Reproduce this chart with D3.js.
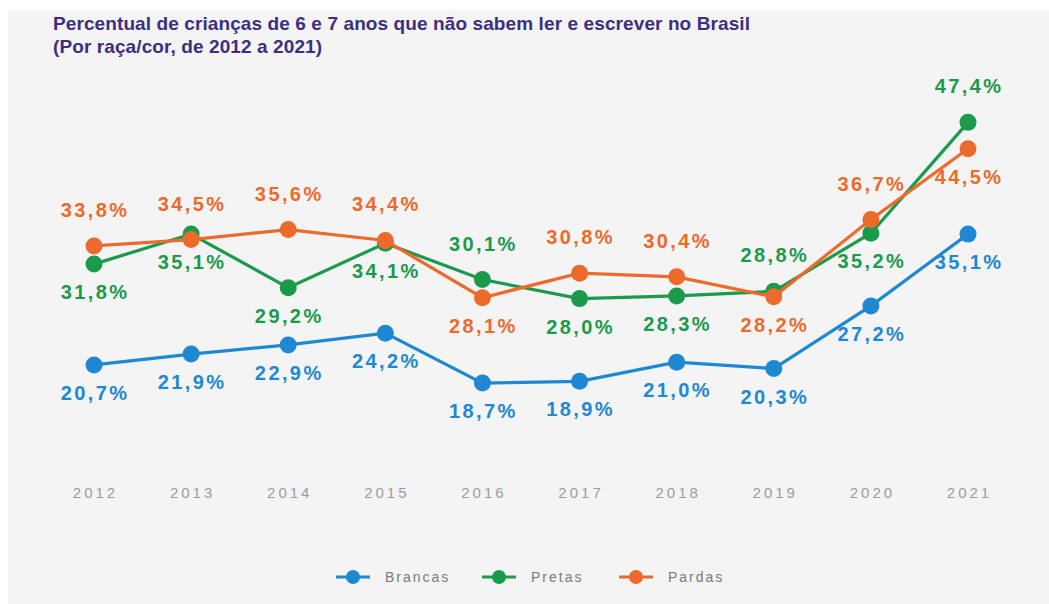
<html>
<head>
<meta charset="utf-8">
<script src="https://cdn.jsdelivr.net/npm/d3@7"></script>
<style>
  body { margin: 0; background: #fff; }
  text { font-family: "Liberation Sans", Arial, sans-serif; }
</style>
</head>
<body>
<svg id="chart" width="1049" height="604"></svg>
<script>

    const years = [2012, 2013, 2014, 2015, 2016, 2017, 2018, 2019, 2020, 2021]
    const brancas = [20.7, 21.9, 22.9, 24.2, 18.7, 18.9, 21.0, 20.3, 27.2, 35.1]
    const pretas = [31.8, 35.1, 29.2, 34.1, 30.1, 28.0, 28.3, 28.8, 35.2, 47.4]
    const pardas = [33.8, 34.5, 35.6, 34.4, 28.1, 30.8, 30.4, 28.2, 36.7, 44.5]

    // which side of the point each value label sits on (1 = below, -1 = above)
    const brancasSide = [1, 1, 1, 1, 1, 1, 1, 1, 1, 1]
    const pretasSide = [1, 1, 1, 1, -1, 1, 1, -1, 1, -1]
    const pardasSide = [-1, -1, -1, -1, 1, -1, -1, 1, -1, 1]

    const seriesNames = ['Brancas', 'Pretas', 'Pardas']
    const colors = ['#1f88d2', '#1c9a4c', '#ec6a2c']

    const series = [
        {name: seriesNames[0], values: brancas, side: brancasSide, color: colors[0]},
        {name: seriesNames[1], values: pretas, side: pretasSide, color: colors[1]},
        {name: seriesNames[2], values: pardas, side: pardasSide, color: colors[2]}
    ]

    const svg = d3.select('#chart')

    // grey panel
    svg.append('rect')
        .attr('x', 8).attr('y', 10)
        .attr('width', 1041).attr('height', 594)
        .attr('fill', '#f4f4f4')

    // title
    const title = svg.append('text')
        .attr('x', 53).attr('y', 30)
        .attr('fill', '#3b2f7f')
        .attr('font-weight', 'bold')
        .attr('font-size', 19)
        .attr('letter-spacing', '0.1px')
    title.append('tspan').attr('x', 53).attr('dy', 0)
        .text('Percentual de crianças de 6 e 7 anos que não sabem ler e escrever no Brasil')
    title.append('tspan').attr('x', 53).attr('dy', 23)
        .text('(Por raça/cor, de 2012 a 2021)')

    const x = d3.scalePoint()
        .domain(years)
        .range([94, 968])

    const y = d3.scaleLinear()
        .domain([0, 50])
        .range([553, 553 - 50 * 9.085])

    // year labels
    const xAxis = d3.axisBottom(x).tickSize(0).tickPadding(0)
    const axisG = svg.append('g')
        .attr('transform', 'translate(1,487)')
        .call(xAxis)
    axisG.select('.domain').remove()
    axisG.selectAll('text')
        .attr('font-family', '"Liberation Sans", Arial, sans-serif')
        .attr('font-size', 15)
        .attr('letter-spacing', '3px')
        .attr('fill', '#9c9c9c')

    const line = d3.line()
        .x((d, i) => x(years[i]))
        .y(d => y(d))

    const groups = svg.selectAll('.series')
        .data(series)
        .enter().append('g')
        .attr('class', 'series')

    groups.append('path')
        .attr('d', d => line(d.values))
        .attr('fill', 'none')
        .attr('stroke', d => d.color)
        .attr('stroke-width', 3.2)

    groups.selectAll('circle')
        .data(d => d.values.map((v, i) => ({v: v, i: i, color: d.color})))
        .enter().append('circle')
        .attr('cx', d => x(years[d.i]))
        .attr('cy', d => y(d.v))
        .attr('r', 8.5)
        .attr('fill', d => d.color)

    groups.selectAll('.lbl')
        .data(d => d.values.map((v, i) => ({v: v, i: i, color: d.color, side: d.side[i]})))
        .enter().append('text')
        .attr('class', 'lbl')
        .attr('x', d => x(years[d.i]) + 1)
        .attr('y', d => y(d.v) + (d.side > 0 ? 35 : -29))
        .attr('text-anchor', 'middle')
        .attr('font-size', 20)
        .attr('font-weight', 'bold')
        .attr('letter-spacing', '2.4px')
        .attr('fill', d => d.color)
        .text(d => d3.format('.1f')(d.v).replace('.', ',') + '%')

    // legend
    const legendX = [336, 482, 619]
    const legend = svg.selectAll('.leg')
        .data(series)
        .enter().append('g')
        .attr('class', 'leg')
        .attr('transform', (d, i) => `translate(${legendX[i]}, 577)`)
    legend.append('line')
        .attr('x1', 0).attr('x2', 34)
        .attr('stroke', d => d.color)
        .attr('stroke-width', 3)
    legend.append('circle')
        .attr('cx', 17).attr('r', 7)
        .attr('fill', d => d.color)
    legend.append('text')
        .attr('x', 49).attr('y', 5)
        .attr('font-size', 14)
        .attr('letter-spacing', '2px')
        .attr('fill', '#7a7a7a')
        .text(d => d.name)

</script>
</body>
</html>
